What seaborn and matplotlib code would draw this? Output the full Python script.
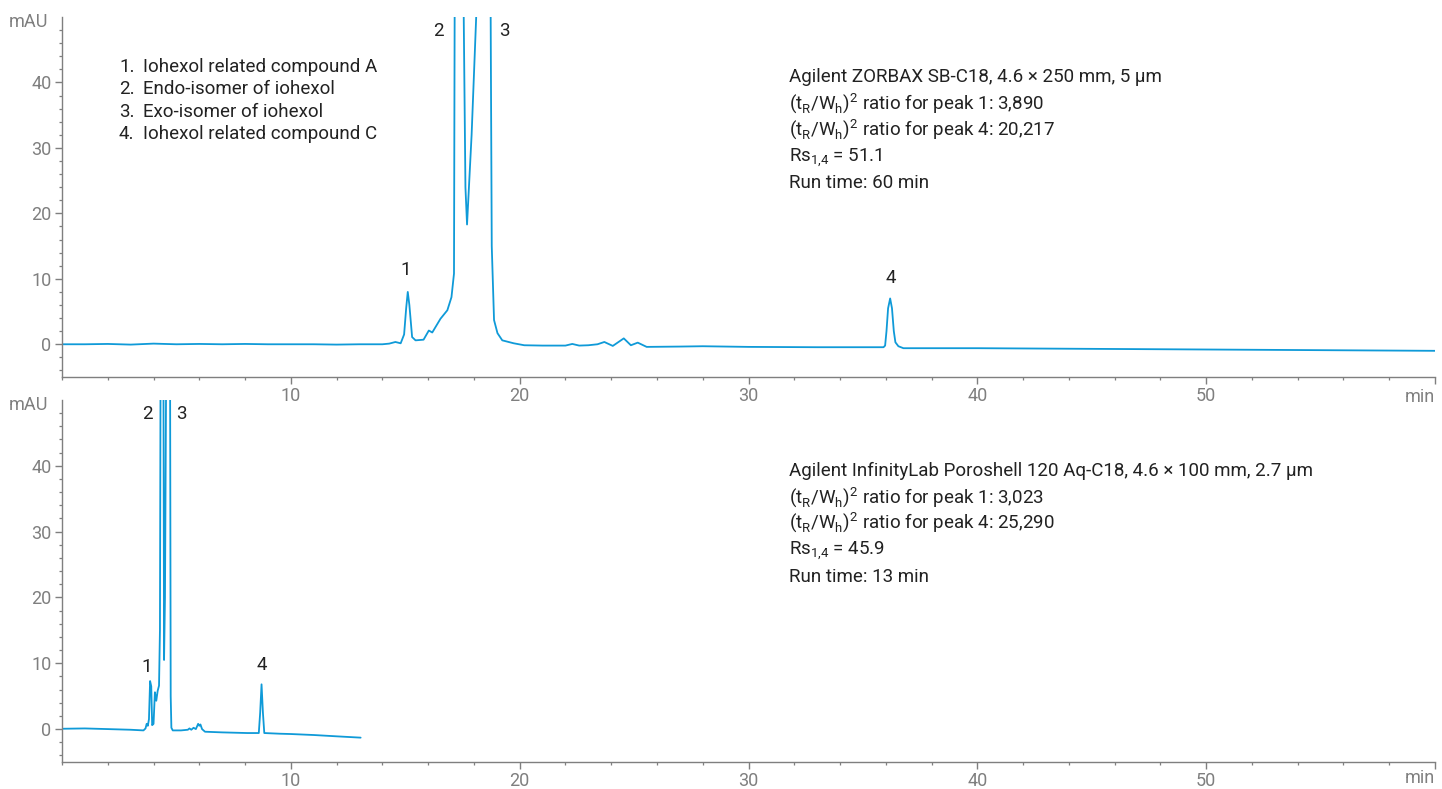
import numpy as np
import seaborn as sns
import matplotlib.pyplot as plt
from matplotlib.ticker import MultipleLocator

# chromatogram traces (time in min, signal in mAU)
top_time = [0.0, 1.0, 2.0, 3.0, 4.0, 5.0, 6.0, 7.0, 8.0, 9.0, 10.0, 11.0, 12.0, 13.0, 14.0,
            14.3, 14.57, 14.8, 14.95, 15.04, 15.11, 15.18, 15.3, 15.45, 15.8, 16.03, 16.18,
            16.54, 16.84, 17.02, 17.13, 17.16, 17.35, 17.55, 17.63, 17.70, 17.9, 18.1, 18.42,
            18.73, 18.78, 18.88, 19.03, 19.24, 19.74, 20.2, 21.0, 22.0, 22.3, 22.6, 23.0,
            23.4, 23.7, 24.07, 24.55, 24.86, 25.16, 25.55, 27.0, 28.0, 30.0, 33.0, 35.0,
            35.9, 35.97, 36.03, 36.1, 36.19, 36.27, 36.35, 36.42, 36.55, 36.77,
            40.0, 45.0, 50.0, 55.0, 60.0]
top_signal = [0.0, 0.0, 0.05, -0.05, 0.1, 0.0, 0.05, 0.0, 0.05, 0.0, 0.0, 0.0, -0.05, 0.0, 0.0,
              0.1, 0.35, 0.15, 1.5, 5.5, 8.0, 6.0, 1.1, 0.6, 0.7, 2.1, 1.8,
              3.9, 5.2, 7.2, 10.8, 52, 250, 52, 24, 18.3, 32, 50, 300,
              52, 15, 3.7, 1.7, 0.6, 0.15, -0.15, -0.2, -0.2, 0.05, -0.2, -0.15,
              0.0, 0.35, -0.25, 0.9, -0.15, 0.25, -0.4, -0.35, -0.3, -0.4, -0.45, -0.45,
              -0.45, -0.2, 2.0, 5.5, 7.0, 5.5, 2.0, 0.3, -0.3, -0.6,
              -0.6, -0.7, -0.8, -0.9, -1.0]

bot_time = [0.0, 1.0, 2.0, 3.0, 3.56, 3.65, 3.7, 3.75, 3.8, 3.85, 3.9, 3.94, 4.0, 4.06,
            4.12, 4.18, 4.24, 4.28, 4.31, 4.38, 4.43, 4.46, 4.5, 4.56, 4.65, 4.72, 4.75,
            4.78, 4.84, 5.2, 5.5, 5.57, 5.65, 5.75, 5.85, 5.95, 6.0, 6.05, 6.12, 6.25,
            7.0, 8.1, 8.6, 8.66, 8.72, 8.78, 8.84, 9.5, 10.0, 11.0, 12.0, 13.05]
bot_signal = [0.05, 0.1, 0.0, -0.1, -0.2, 0.1, 0.8, 0.5, 1.5, 7.3, 6.5, 0.6, 0.8, 5.6,
              4.3, 5.8, 6.6, 15, 60, 250, 60, 10.5, 20, 60, 300, 60, 5,
              0.2, -0.2, -0.2, -0.1, 0.1, -0.1, 0.2, 0.0, 0.8, 0.5, 0.7, 0.0, -0.4,
              -0.5, -0.6, -0.6, 2.5, 6.8, 2.5, -0.6, -0.7, -0.75, -0.9, -1.1, -1.3]

compounds = ["Iohexol related compound A", "Endo-isomer of iohexol",
             "Exo-isomer of iohexol", "Iohexol related compound C"]

top_notes = ["Agilent ZORBAX SB-C18, 4.6 × 250 mm, 5 µm",
             r"(t$_\mathregular{R}$/W$_\mathregular{h}$)$^\mathregular{2}$ ratio for peak 1: 3,890",
             r"(t$_\mathregular{R}$/W$_\mathregular{h}$)$^\mathregular{2}$ ratio for peak 4: 20,217",
             r"Rs$_\mathregular{1{,}4}$ = 51.1",
             "Run time: 60 min"]
bot_notes = ["Agilent InfinityLab Poroshell 120 Aq-C18, 4.6 × 100 mm, 2.7 µm",
             r"(t$_\mathregular{R}$/W$_\mathregular{h}$)$^\mathregular{2}$ ratio for peak 1: 3,023",
             r"(t$_\mathregular{R}$/W$_\mathregular{h}$)$^\mathregular{2}$ ratio for peak 4: 25,290",
             r"Rs$_\mathregular{1{,}4}$ = 45.9",
             "Run time: 13 min"]

sns.set_theme(style="ticks")
plt.rcParams['font.family'] = ['Roboto', 'DejaVu Sans']
plt.rcParams['mathtext.fontset'] = 'custom'
plt.rcParams['mathtext.rm'] = 'Roboto'

blue = "#0f9ad8"
grey = "#7f7f7f"
dark = "#222222"
fs = 13
fs_txt = 13.5

fig = plt.figure(figsize=(14.42, 7.89), dpi=100)
ax1 = fig.add_axes([62 / 1442, 1 - 377 / 789, 1373 / 1442, 360 / 789])
ax2 = fig.add_axes([62 / 1442, 1 - 762 / 789, 1373 / 1442, 362 / 789])

sns.lineplot(x=top_time, y=top_signal, ax=ax1, color=blue, linewidth=1.3)
sns.lineplot(x=bot_time, y=bot_signal, ax=ax2, color=blue, linewidth=1.3)

for ax in (ax1, ax2):
    ax.set_xlim(0, 60)
    ax.set_ylim(-5, 50)
    ax.set_xlabel("")
    ax.set_ylabel("")
    ax.xaxis.set_minor_locator(MultipleLocator(2))
    ax.set_yticks([0, 10, 20, 30, 40])
    ax.set_yticks(np.arange(-4, 50, 2), minor=True)
    ax.set_xticks([10, 20, 30, 40, 50, 60])
    ax.set_xticklabels(["10", "20", "30", "40", "50", ""])
    for s in ("top", "right"):
        ax.spines[s].set_visible(False)
    for s in ("left", "bottom"):
        ax.spines[s].set_color(grey)
        ax.spines[s].set_linewidth(1.0)
    ax.tick_params(which="major", length=5, width=1.0, color=grey, labelcolor=grey,
                   labelsize=fs, pad=2.5)
    ax.tick_params(which="minor", length=2.5, width=0.9, color=grey)
    ax.patch.set_alpha(0)
    ax.text(-0.01, 49.2, "mAU", transform=ax.get_yaxis_transform(), ha="right",
            va="center", color=grey, fontsize=fs)

ax1.text(60, -0.055, "min", transform=ax1.get_xaxis_transform(), ha="right",
         va="center", color=grey, fontsize=fs)
ax2.text(60, -0.044, "min", transform=ax2.get_xaxis_transform(), ha="right",
         va="center", color=grey, fontsize=fs)

# peak labels
for x, y, s in [(15.0, 11.3, "1"), (16.45, 47.8, "2"), (19.35, 47.8, "3"), (36.24, 10.2, "4")]:
    ax1.text(x, y, s, ha="center", va="center", color=dark, fontsize=fs_txt)
for x, y, s in [(3.68, 9.5, "1"), (3.72, 47.8, "2"), (5.2, 47.8, "3"), (8.72, 9.8, "4")]:
    ax2.text(x, y, s, ha="center", va="center", color=dark, fontsize=fs_txt)

# compound list
for i, name in enumerate(compounds):
    y = 42.3 - i * 3.37
    ax1.text(2.49, y, f"{i + 1}.", ha="left", va="center", color=dark, fontsize=fs_txt)
    ax1.text(3.54, y, name, ha="left", va="center", color=dark, fontsize=fs_txt)

for ys, notes, ax in [([40.8, 36.8, 32.8, 28.5, 24.6], top_notes, ax1),
                      ([39.2, 35.2, 31.3, 27.1, 23.1], bot_notes, ax2)]:
    for y, s in zip(ys, notes):
        ax.text(31.77, y, s, ha="left", va="center", color=dark, fontsize=fs_txt)

fig.savefig("out.png", dpi=100)
